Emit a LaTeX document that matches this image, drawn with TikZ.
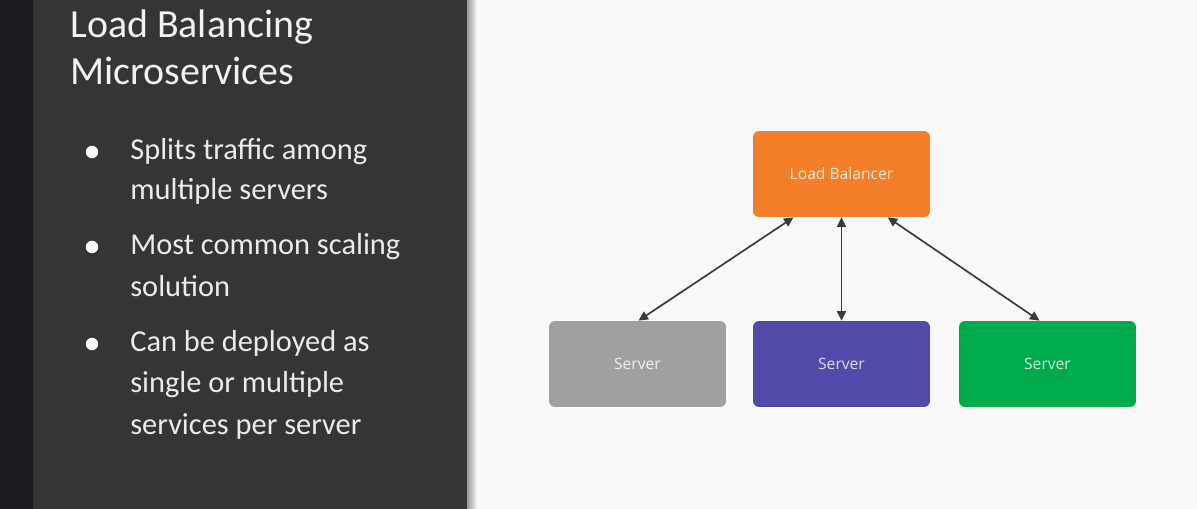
\documentclass[tikz,border=0pt]{standalone}
\usepackage{fontspec}
\setmainfont{Carlito}
\newfontfamily\boxfont{Open Sans}
\usepackage{tikz}
\usetikzlibrary{positioning,calc,arrows.meta}
\definecolor{stripdark}{RGB}{28,29,33}
\definecolor{paneldark}{RGB}{53,53,53}
\definecolor{slidebg}{RGB}{249,248,250}
\definecolor{lborange}{RGB}{245,127,40}
\definecolor{srvgray}{RGB}{160,159,161}
\definecolor{srvpurple}{RGB}{81,74,168}
\definecolor{srvgreen}{RGB}{0,171,78}
\definecolor{linkgray}{RGB}{58,58,58}

\begin{document}
\begin{tikzpicture}[x=0.02cm, y=-0.02cm,
    titletext/.style={anchor=base west, inner sep=0, text=white!95!black,
        font=\fontsize{22.7}{27}\selectfont},
    itemtext/.style={anchor=base west, inner sep=0, text=white!92!black,
        font=\fontsize{17.3}{21}\selectfont},
    dot/.style={circle, fill=white, inner sep=0, minimum size=0.25cm},
    box/.style={rounded corners=0.12cm, minimum width=3.54cm, minimum height=1.72cm,
        inner sep=0, font=\boxfont\fontsize{8.9}{11}\selectfont},
    link/.style={draw=linkgray, line width=0.95pt,
        {Triangle[length=1.9mm,width=1.8mm]}-{Triangle[length=1.9mm,width=1.8mm]}}]

    % slide background
    \useasboundingbox (0,0) rectangle (1197,509);
    \fill[stripdark] (0,0) rectangle (33,509);
    \fill[paneldark] (33,0) rectangle (467,509);
    \fill[slidebg] (467,0) rectangle (1197,509);
    \shade[left color=black!40, right color=slidebg] (467,0) rectangle (477,509);

    % title
    \node[titletext] (title1) at (70,38) {Load Balancing};
    \node[titletext] (title2) at (70,85) {Microservices};

    % bullet points
    \node[dot] (dot1) at (92,152) {};
    \node[itemtext] (item1a) at (130,160) {Splits traffic among};
    \node[itemtext] (item1b) at (130,200) {multiple servers};

    \node[dot] (dot2) at (92,247) {};
    \node[itemtext] (item2a) at (130,255) {Most common scaling};
    \node[itemtext] (item2b) at (130,297) {solution};

    \node[dot] (dot3) at (92,344) {};
    \node[itemtext] (item3a) at (130,352) {Can be deployed as};
    \node[itemtext] (item3b) at (130,393) {single or multiple};
    \node[itemtext] (item3c) at (130,435) {services per server};

    % diagram
    \node[box, fill=lborange, text=white!85!lborange] (lb) at (841.5,174) {Load Balancer};
    \node[box, fill=srvgray, text=white!85!srvgray] (srv1) at (637.5,364) {Server};
    \node[box, fill=srvpurple, text=white!80!srvpurple] (srv2) at (841.5,364) {Server};
    \node[box, fill=srvgreen, text=white!80!srvgreen] (srv3) at (1047.5,364) {Server};

    \draw[link] ($(lb.south west)!0.23!(lb.south east)$) -- ([xshift=0.02cm]srv1.north);
    \draw[link] (lb.south) -- (srv2.north);
    \draw[link] ($(lb.south west)!0.76!(lb.south east)$) -- ([xshift=-0.16cm]srv3.north);

\end{tikzpicture}
\end{document}
